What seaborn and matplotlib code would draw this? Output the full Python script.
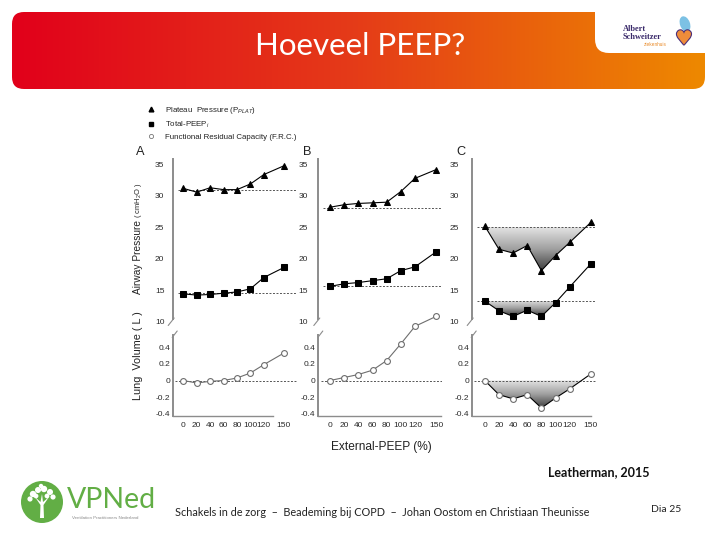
import numpy as np
import matplotlib
matplotlib.use("Agg")
import matplotlib.pyplot as plt
import seaborn as sns
from matplotlib.patches import FancyBboxPatch, Circle, Polygon, Ellipse
from matplotlib.path import Path
from matplotlib.lines import Line2D
from matplotlib.colors import LinearSegmentedColormap
import matplotlib.patheffects as pe

# ---------------- data ----------------
peep_pct = [0, 20, 40, 60, 80, 100, 120, 150]
x_ticks = [0, 20, 40, 60, 80, 100, 120, 150]

A_plat = [31.2, 30.6, 31.3, 31.0, 31.0, 31.9, 33.4, 34.8]
A_peep = [14.4, 14.2, 14.3, 14.5, 14.7, 15.2, 17.0, 18.6]
A_vol = [0.0, -0.03, -0.01, 0.0, 0.03, 0.09, 0.19, 0.33]
A_plat_base, A_peep_base = 31.0, 14.5

B_plat = [28.2, 28.6, 28.8, 28.9, 29.0, 30.7, 32.8, 34.2]
B_peep = [15.6, 16.0, 16.2, 16.5, 16.8, 18.1, 18.7, 21.1]
B_vol = [0.0, 0.036, 0.072, 0.124, 0.24, 0.44, 0.65, 0.77]
B_plat_base, B_peep_base = 28.1, 15.6

C_plat = [25.2, 21.5, 20.9, 22.1, 18.1, 20.5, 22.6, 25.8]
C_peep = [13.25, 11.7, 10.8, 11.8, 10.8, 13.0, 15.5, 19.2]
C_vol = [0.0, -0.17, -0.22, -0.17, -0.33, -0.21, -0.10, 0.08]
C_plat_base, C_peep_base = 25.1, 13.25

p_ticks = [10, 15, 20, 25, 30, 35]
v_ticks = [-0.4, -0.2, 0, 0.2, 0.4]
v_labels = ["-0.4", "-0.2", "0", "0.2", "0.4"]

legend_labels = ["Plateau  Pressure (P$_{PLAT}$)", "Total-PEEP$_i$",
                 "Functional Residual Capacity (F.R.C.)"]

# ---------------- style ----------------
sns.set_style("white")
plt.rcParams["font.family"] = ["Liberation Sans", "DejaVu Sans"]
plt.rcParams["mathtext.fontset"] = "custom"
plt.rcParams["mathtext.rm"] = "Liberation Sans"
plt.rcParams["mathtext.it"] = "Liberation Sans:italic"

W, H = 720, 540
fig = plt.figure(figsize=(7.2, 5.4), dpi=100)
bg = fig.add_axes([0, 0, 1, 1], zorder=-5)
bg.set_xlim(0, W)
bg.set_ylim(H, 0)
bg.axis("off")


def px_axes(left, top, w, h):
    ax = fig.add_axes([left / W, 1 - (top + h) / H, w / W, h / H])
    ax.set_facecolor("none")
    return ax


shade_cmap = LinearSegmentedColormap.from_list("shade", ["#e4e4e4", "#a0a0a0", "#3c3c3c"])


def gradient_fill(ax, x, y, base):
    x = np.asarray(x, float)
    y = np.asarray(y, float)
    coll = ax.fill_between(x, y, base, where=y <= base, interpolate=True,
                           facecolor="none", edgecolor="none")
    paths = coll.get_paths()
    coll.remove()
    if not paths:
        return
    path = Path.make_compound_path(*paths)
    grad = np.linspace(0, 1, 256).reshape(-1, 1)
    im = ax.imshow(grad, extent=(x.min(), x.max(), y.min(), base), origin="upper",
                   cmap=shade_cmap, aspect="auto", zorder=1, interpolation="bilinear")
    im.set_clip_path(path, transform=ax.transData)


lefts = {"A": 172.7, "B": 318.3, "C": 471.7}
xlims = {"A": (-15.8, 169), "B": (-16.7, 158.6), "C": (-18.5, 156.7)}
xspine_end = {"A": 134, "B": 157, "C": 150}
ypads = {"A": 6.0, "B": 7.6, "C": 9.0}
panels = {
    "A": (A_plat, A_peep, A_vol, A_plat_base, A_peep_base),
    "B": (B_plat, B_peep, B_vol, B_plat_base, B_peep_base),
    "C": (C_plat, C_peep, C_vol, C_plat_base, C_peep_base),
}
PW = 124
TOP_T, TOP_H = 159.5, 165.1
BOT_T, BOT_H = 333.0, 82.5
spine_col = "#8c8c8c"
tick_col = "#2a2a2a"
TICK_FS = 6.0

for key, (plat, peep, vol, pb, qb) in panels.items():
    L = lefts[key]
    # ----- pressure panel -----
    ax = px_axes(L, TOP_T, PW, TOP_H)
    if key == "C":
        gradient_fill(ax, peep_pct, plat, pb)
        gradient_fill(ax, peep_pct, peep, qb)
    ax.axhline(pb, xmin=0.04, color="#555555", lw=0.7, ls=(0, (2, 1.6)), zorder=2)
    ax.axhline(qb, xmin=0.04, color="#555555", lw=0.7, ls=(0, (2, 1.6)), zorder=2)
    sns.lineplot(x=peep_pct, y=plat, ax=ax, color="black", lw=0.8, marker="^",
                 markersize=4.8, markeredgecolor="black", markerfacecolor="black", zorder=4)
    sns.lineplot(x=peep_pct, y=peep, ax=ax, color="black", lw=0.8, marker="s",
                 markersize=4.2, markeredgecolor="black", markerfacecolor="black", zorder=4)
    ax.set_xlim(*xlims[key])
    ax.set_ylim(9.5, 35.8)
    ax.set_yticks(p_ticks)
    ax.set_yticklabels([str(t) for t in p_ticks])
    ax.set_xticks([])
    for s in ["top", "right", "bottom"]:
        ax.spines[s].set_visible(False)
    ax.spines["left"].set_color(spine_col)
    ax.spines["left"].set_linewidth(1.4)
    ax.spines["left"].set_bounds(10.4, 35.8)
    ax.tick_params(axis="y", length=0, pad=ypads[key], labelsize=TICK_FS, colors=tick_col)
    ax.set_xlabel("")
    ax.set_ylabel("")
    ax.grid(False)

    # ----- volume panel -----
    axv = px_axes(L, BOT_T, PW, BOT_H)
    if key == "C":
        gradient_fill(axv, peep_pct, vol, 0.0)
    axv.axhline(0, xmin=0.02, color="#555555", lw=0.7, ls=(0, (2, 1.6)), zorder=2)
    vcol = "black" if key == "C" else "#6e6e6e"
    sns.lineplot(x=peep_pct, y=vol, ax=axv, color=vcol, lw=0.8, marker="o",
                 markersize=4.2, markeredgecolor="#6e6e6e", markerfacecolor="white",
                 markeredgewidth=0.8, zorder=4, clip_on=False)
    axv.set_xlim(*xlims[key])
    axv.set_ylim(-0.42, 0.57)
    axv.set_yticks(v_ticks)
    axv.set_yticklabels(v_labels)
    axv.set_xticks(x_ticks)
    axv.set_xticklabels([str(t) for t in x_ticks])
    for s in ["top", "right"]:
        axv.spines[s].set_visible(False)
    for s in ["left", "bottom"]:
        axv.spines[s].set_color(spine_col)
    axv.spines["left"].set_linewidth(1.4)
    axv.spines["bottom"].set_linewidth(1.0)
    axv.spines["left"].set_bounds(-0.42, 0.55)
    axv.spines["bottom"].set_bounds(xlims[key][0], xspine_end[key])
    axv.tick_params(axis="y", length=0, pad=2.0, labelsize=TICK_FS, colors=tick_col)
    axv.tick_params(axis="x", length=0, pad=5.0, labelsize=TICK_FS, colors=tick_col)
    axv.set_xlabel("")
    axv.set_ylabel("")
    axv.grid(False)

    # break marks
    y10 = 321.5
    bg.plot([L - 4.5, L + 1.5], [y10 + 4, y10 - 3.5], color=spine_col, lw=0.8)
    bg.plot([L - 0.5, L + 4.5], [BOT_T + 4.5, BOT_T - 2], color=spine_col, lw=0.8)

    # panel letter
    bg.text(L - 37 if key == "A" else L - 15, 152, key, fontsize=9.2, color="#222222",
            ha="left", va="center")

# axis titles
bg.text(138, 294, "Airway Pressure", rotation=90, rotation_mode="anchor",
        ha="left", va="center", fontsize=7.3, color="#222222")
bg.text(138, 218, "( cmH$_2$O )", rotation=90, rotation_mode="anchor",
        ha="left", va="center", fontsize=5.4, color="#222222")
bg.text(138, 356, "Lung  Volume ( L )", rotation=90, ha="center", va="center",
        fontsize=7.8, color="#222222")
bg.text(381, 447, "External-PEEP (%)", ha="center", va="center", fontsize=8.6,
        color="#222222")

# legend (marker-only proxies)
handles = [
    Line2D([], [], ls="none", marker="^", markersize=3.4, color="black"),
    Line2D([], [], ls="none", marker="s", markersize=3.2, color="black"),
    Line2D([], [], ls="none", marker="o", markersize=3.0, markerfacecolor="white",
           markeredgecolor="#777777", markeredgewidth=0.6),
]
fig.legend(handles, legend_labels, loc="upper left",
           bbox_to_anchor=(146.9 / W, 1 - 104.5 / H), frameon=False, fontsize=5.7,
           handlelength=1.0, handletextpad=1.3, labelspacing=0.5, borderpad=0,
           borderaxespad=0, labelcolor="#222222")

# ---------------- slide decorations ----------------
banner = FancyBboxPatch((12, 12), 693, 77, boxstyle="round,pad=0,rounding_size=12",
                        facecolor="none", edgecolor="none")
bg.add_patch(banner)
stops = np.array([[225, 0, 27], [229, 60, 24], [238, 137, 0]]) / 255.0
tt = np.linspace(0, 1, 400)
grad = np.stack([np.interp(tt, [0, 0.5, 1], stops[:, c]) for c in range(3)], axis=-1)
im = bg.imshow(grad[np.newaxis, :, :], extent=(12, 705, 89, 12), aspect="auto",
               interpolation="bilinear", zorder=0)
im.set_clip_path(banner)
notch = FancyBboxPatch((595, -10), 140, 63, boxstyle="round,pad=0,rounding_size=14",
                       facecolor="white", edgecolor="none", zorder=1)
bg.add_patch(notch)
bg.set_xlim(0, W)
bg.set_ylim(H, 0)

bg.text(360, 46, "Hoeveel PEEP?", color="white", fontsize=22.5, ha="center",
        va="center", family=["Lato", "DejaVu Sans"], zorder=3)

# Albert Schweitzer logo
bg.text(623, 29, "Albert", fontsize=6.0, fontweight="bold", color="#3a2a6a",
        family=["Liberation Serif", "DejaVu Serif"], ha="left", va="center", zorder=3)
bg.text(623, 37, "Schweitzer", fontsize=6.0, fontweight="bold", color="#3a2a6a",
        family=["Liberation Serif", "DejaVu Serif"], ha="left", va="center", zorder=3)
bg.text(644, 44.5, "ziekenhuis", fontsize=3.4, color="#e98b2a", ha="left",
        va="center", zorder=3)
bg.add_patch(Ellipse((685, 24), 10, 16, angle=-20, facecolor="#7cc1e4",
                     edgecolor="none", zorder=3))
bg.text(684, 39, "\u2665", fontsize=14, color="#ef8c3a", ha="center", va="center",
        family=["DejaVu Sans"], zorder=4,
        path_effects=[pe.Stroke(linewidth=1.6, foreground="#4b2f7a"), pe.Normal()])

# VPNed logo
green = "#62ae45"
bg.add_patch(Circle((42, 502), 21, facecolor=green, edgecolor="none"))
bg.add_patch(Polygon([[40, 518], [44, 518], [43.5, 505], [49, 497], [43, 502],
                      [42, 494], [40.5, 502], [35, 497], [40.5, 505]],
                     closed=True, facecolor="white", edgecolor="none"))
for (cx, cy, r) in [(33, 494, 3.2), (38, 490, 3.0), (44, 489, 3.2), (50, 492, 3.0),
                    (53, 497, 2.6), (30, 499, 2.6), (36, 496, 2.4), (47, 496, 2.4),
                    (41, 486, 2.2)]:
    bg.add_patch(Circle((cx, cy), r, facecolor="white", edgecolor="none"))
bg.text(67, 500, "VPNed", fontsize=20.5, color=green, ha="left", va="center",
        family=["Lato", "DejaVu Sans"])
bg.text(72, 518, "Ventilation Practitioners Nederland", fontsize=3.2, color="#8a8a8a",
        ha="left", va="center")

# footer
bg.text(175, 513, "Schakels in de zorg  \u2013  Beademing bij COPD  \u2013  Johan Oostom en Christiaan Theunisse",
        fontsize=7.85, color="#222222", ha="left", va="center", family=["Lato", "DejaVu Sans"])
bg.text(599, 472, "Leatherman, 2015", fontsize=9, fontweight="bold", color="#111111",
        ha="center", va="center", family=["Lato", "DejaVu Sans"])
bg.text(666, 509, "Dia 25", fontsize=7.5, color="#222222", ha="center", va="center",
        family=["Lato", "DejaVu Sans"])

fig.savefig("out.png", dpi=100)
